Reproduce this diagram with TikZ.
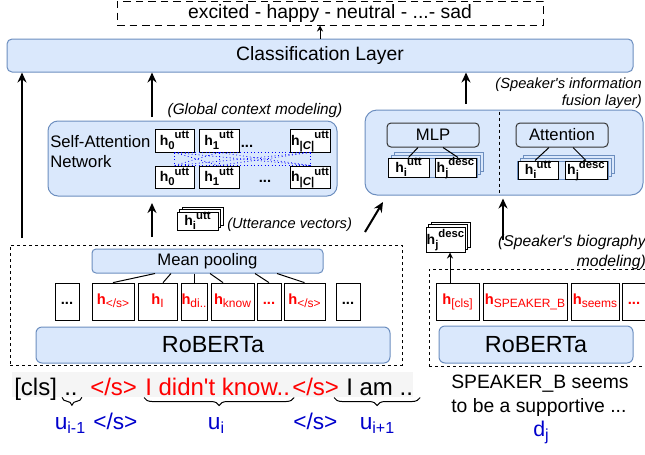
\documentclass[tikz,border=0pt]{standalone}
\usepackage{fontspec}
\setmainfont{Liberation Sans}
\usetikzlibrary{arrows.meta,decorations.pathreplacing}

\newlength{\du}
\setlength{\du}{0.75pt}

\definecolor{panelfill}{rgb}{0.854902, 0.909804, 0.988235}
\definecolor{panelline}{rgb}{0.423529, 0.556863, 0.749020}
\definecolor{tokenred}{rgb}{1.000000, 0.000000, 0.000000}
\definecolor{labelblue}{rgb}{0.000000, 0.000000, 0.800000}
\definecolor{linkblue}{rgb}{0.000000, 0.000000, 1.000000}
\definecolor{rowgray}{rgb}{0.960000, 0.960000, 0.960000}

\newcommand{\hvec}[2]{\textbf{h\raisebox{-0.3em}{\fontsize{8.5}{9}\selectfont #1}\raisebox{0.43em}{\fontsize{8.5}{9}\selectfont #2}}}
\newcommand{\htok}[1]{\textbf{h}\raisebox{-0.2em}{\fontsize{9}{10}\selectfont #1}}
\newcommand{\usub}[2]{#1\raisebox{-0.22em}{\fontsize{12}{13}\selectfont #2}}

\tikzset{
  panel/.style={draw=panelline, fill=panelfill, line width=1\du, inner sep=0pt},
  modbox/.style={panel, draw=black!80, rounded corners=4\du, minimum width=92\du, minimum height=24\du, font=\fontsize{12.5}{14}\selectfont},
  stackbox/.style={draw=panelline, fill=panelfill, line width=1\du, inner sep=0pt},
  vecbox/.style={draw=black, fill=white, line width=1\du, inner sep=0pt, text height=13\du, text depth=4\du, font=\fontsize{10.5}{12}\selectfont},
  tokbox/.style={draw=black, fill=white, line width=0.8\du, inner sep=0pt, minimum height=37\du, text height=9\du, text depth=3\du, text=tokenred, font=\fontsize{11}{12}\selectfont},
  notetext/.style={inner sep=0pt, font=\fontsize{11}{13}\selectfont\itshape},
  rowword/.style={inner sep=0pt, anchor=base west, font=\fontsize{18}{20}\selectfont},
  bluelabel/.style={inner sep=0pt, text=labelblue, font=\fontsize{17}{20}\selectfont},
  fatarrow/.style={line width=2\du, -{Stealth[length=7.5pt, width=6.75pt]}},
  thinarrow/.style={line width=1\du, -{Stealth[length=4.5pt, width=4.5pt]}},
  dashbox/.style={draw=black, line width=1\du, dash pattern=on 3\du off 3\du, inner sep=0pt},
  attlink/.style={draw=linkblue, line width=0.8\du, dotted},
  plainlink/.style={draw=black, line width=1\du},
  ubrace/.style={decorate, decoration={brace, mirror, amplitude=6pt}, line width=1\du},
}

\begin{document}
\begin{tikzpicture}[x=\du,y=-\du]
\useasboundingbox (0,0) rectangle (645,454);

% emotion classes and classifier
\node[dashbox, dash pattern=on 7.5\du off 5\du, minimum width=426\du, minimum height=24\du, font=\fontsize{14.5}{16}\selectfont] (classes) at (330,13) {excited - happy - neutral - ...- sad};
\node[panel, rounded corners=5\du, minimum width=626\du, minimum height=33\du, font=\fontsize{14.5}{16}\selectfont] (clf) at (320,55.5) {Classification Layer};
\draw[thinarrow] (clf.north) -- (clf.north |- classes.south);

% global context
\node[notetext, font=\fontsize{11.5}{13}\selectfont\itshape] (ctxnote) at (255,111) {(Global context modeling)};
\node[panel, rounded corners=10\du, minimum width=289\du, minimum height=75\du] (san) at (192.5,158.5) {};
\node[inner sep=0pt, anchor=west, align=left, font=\fontsize{12.5}{15}\selectfont] (sanname) at (50,152) {Self-Attention\\Network};
\node[vecbox, minimum width=39\du, minimum height=23\du] (t0) at (174.5,140.5) {\hvec{0}{utt}};
\node[vecbox, minimum width=40\du, minimum height=23\du] (t1) at (219,140.5) {\hvec{1}{utt}};
\node[inner sep=0pt, font=\fontsize{11}{12}\selectfont\bfseries] (tdots) at (247,146) {...};
\node[vecbox, minimum width=40\du, minimum height=23\du] (tC) at (310,140.5) {\hvec{|\textit{C}|}{utt}};
\node[vecbox, minimum width=39\du, minimum height=22\du] (b0) at (174.5,177) {\hvec{0}{utt}};
\node[vecbox, minimum width=40\du, minimum height=22\du] (b1) at (219,177) {\hvec{1}{utt}};
\node[inner sep=0pt, font=\fontsize{11}{12}\selectfont\bfseries] (bdots) at (265,181) {...};
\node[vecbox, minimum width=40\du, minimum height=22\du] (bC) at (310,177) {\hvec{|\textit{C}|}{utt}};
\draw[attlink] (t0.south) -- (tC.south);
\draw[attlink] (b0.north) -- (bC.north);
\foreach \a in {t0,t1,tC}
  \foreach \b in {b0,b1,bC}
    \draw[attlink] (\a.south) -- (\b.north);

\node[vecbox, minimum width=41\du, minimum height=18\du] (uvecC) at (202.5,216) {};
\node[vecbox, minimum width=41\du, minimum height=18\du] (uvecB) at (200,218.5) {};
\node[vecbox, minimum width=41\du, minimum height=18\du] (uvec) at (197.5,221) {\hvec{i}{utt}};
\node[notetext, anchor=west] (uvecnote) at (227,225) {(Utterance vectors)};

\coordinate (skipOut) at (22,238);
\draw[fatarrow] (skipOut) -- (skipOut |- clf.south);
\coordinate (sanOut) at (152,117);
\draw[fatarrow] (sanOut) -- (sanOut |- clf.south);
\coordinate (poolOut) at (152,237);
\coordinate (sanIn) at (152,203);
\draw[fatarrow] (poolOut) -- (sanIn);

% speaker fusion
\node[notetext, anchor=east, align=right] (fusnote) at (642,93) {(Speaker\textquotesingle s information\\fusion layer)};
\node[panel, rounded corners=12\du, minimum width=278\du, minimum height=85\du] (fusion) at (504,152.5) {};
\draw[plainlink, dash pattern=on 3\du off 3\du, shorten <=2\du, shorten >=2\du] ([xshift=-5\du]fusion.north) -- ([xshift=-5\du]fusion.south);
\node[modbox] (mlp) at (433,135) {MLP};
\node[modbox] (att) at (562,135) {Attention};
\node[stackbox, minimum width=89\du, minimum height=19\du] (mlpstackC) at (438.5,161.5) {};
\node[stackbox, minimum width=89\du, minimum height=19\du] (mlpstackB) at (435.5,164.5) {};
\node[stackbox, minimum width=89\du, minimum height=19\du] (mlpstack) at (432.5,167.5) {};
\node[vecbox, minimum width=41\du, minimum height=19\du] (mu) at (408.5,167.5) {\hvec{i}{utt}};
\node[vecbox, minimum width=41\du, minimum height=19\du] (md) at (455.5,167.5) {\hvec{j}{desc}};
\node[stackbox, minimum width=91\du, minimum height=18\du] (attstackC) at (568.5,164) {};
\node[stackbox, minimum width=91\du, minimum height=18\du] (attstackB) at (565.5,167) {};
\node[stackbox, minimum width=91\du, minimum height=18\du] (attstack) at (562.5,170) {};
\node[vecbox, minimum width=40\du, minimum height=18\du] (au) at (538,170) {\hvec{i}{utt}};
\node[vecbox, minimum width=42\du, minimum height=18\du] (ad) at (586,170) {\hvec{j}{desc}};
\draw[plainlink] ([xshift=-15\du]mlp.south) -- (mu.north);
\draw[plainlink] ([xshift=10\du]mlp.south) -- ([xshift=2.5\du]md.north);
\draw[plainlink] ([xshift=-13\du]att.south) -- ([xshift=-3\du]au.north);
\draw[plainlink] ([xshift=11\du]att.south) -- (ad.north);

\coordinate (fusOut) at (466,104);
\draw[fatarrow] (fusOut) -- (fusOut |- clf.south);
\coordinate (uvecOut) at (365,232);
\coordinate (fusIn) at (383,202);
\draw[fatarrow] (uvecOut) -- (fusIn);
\coordinate (bioOut) at (503,240);
\draw[fatarrow, shorten >=3\du] (bioOut) -- (bioOut |- fusion.south);
\node[notetext, anchor=east, align=right, font=\fontsize{11.75}{15}\selectfont\itshape] (bionote) at (646,252) {(Speaker\textquotesingle s biography\\modeling)};

% utterance encoder
\node[dashbox, minimum width=392\du, minimum height=120\du] (lbox) at (206,305) {};
\node[panel, rounded corners=4\du, minimum width=231\du, minimum height=24\du, font=\fontsize{12.5}{14}\selectfont] (pool) at (207.5,261) {Mean pooling};
\node[tokbox, minimum width=24\du, text=black] (k1) at (67,301.5) {\textbf{...}};
\node[tokbox, minimum width=42\du] (k2) at (113,301.5) {\htok{</s>}};
\node[tokbox, minimum width=39\du] (k3) at (157.5,301.5) {\htok{I}};
\node[tokbox, minimum width=26\du] (k4) at (194,301.5) {\htok{di..}};
\node[tokbox, minimum width=43\du] (k5) at (232.5,301.5) {\htok{know}};
\node[tokbox, minimum width=24\du] (k6) at (269,301.5) {\textbf{...}};
\node[tokbox, minimum width=41\du] (k7) at (304.5,301.5) {\htok{</s>}};
\node[tokbox, minimum width=24\du, text=black] (k8) at (348,301.5) {\textbf{...}};
\draw[plainlink] ([xshift=-52.5\du]pool.south) -- (k2.north);
\draw[plainlink] ([xshift=-36.5\du]pool.south) -- ([xshift=5.5\du]k3.north);
\draw[plainlink] ([xshift=-13.5\du]pool.south) -- (k4.north);
\draw[plainlink] ([xshift=2.5\du]pool.south) -- ([xshift=-9.5\du]k5.north);
\draw[plainlink] ([xshift=47.5\du]pool.south) -- (k6.north);
\draw[plainlink] ([xshift=69.5\du]pool.south) -- (k7.north);
\node[panel, rounded corners=6\du, minimum width=354\du, minimum height=36\du, font=\fontsize{17.5}{20}\selectfont] (enc) at (213,345) {RoBERTa};

% description encoder
\node[dashbox, minimum width=240\du, minimum height=97\du] (rbox) at (549,317.5) {};
\node[tokbox, minimum width=43\du] (c1) at (457.5,301.5) {\htok{[cls]}};
\node[tokbox, minimum width=84\du] (c2) at (525,301.5) {\htok{SPEAKER\_B}};
\node[tokbox, minimum width=48\du] (c3) at (595,301.5) {\htok{seems}};
\node[tokbox, minimum width=24\du] (c4) at (634,301.5) {\textbf{...}};
\node[panel, rounded corners=6\du, minimum width=194\du, minimum height=37\du, font=\fontsize{17.5}{20}\selectfont] (enc2) at (536,344.5) {RoBERTa};
\node[vecbox, minimum width=39\du, minimum height=25\du] (diconC) at (450.5,234.5) {};
\node[vecbox, minimum width=39\du, minimum height=25\du] (diconB) at (448,237) {};
\node[vecbox, minimum width=39\du, minimum height=25\du] (dicon) at (445.5,239.5) {\hvec{j}{desc}};
\coordinate (clsTop) at ([xshift=-7.5\du]c1.north);
\draw[thinarrow] (clsTop) -- (clsTop |- dicon.south);

% input text
\node[fill=rowgray, inner sep=0pt, minimum width=401\du, minimum height=25\du] (rowbg) at (212.5,384.5) {};
\node[rowword] (w1) at (14,395) {[cls]};
\node[rowword] (w2) at (64,395) {..};
\node[rowword, text=tokenred] (w3) at (90,395) {</s>};
\node[rowword, text=tokenred] (w4) at (145,395) {I didn\textquotesingle t know..};
\node[rowword, text=tokenred] (w5) at (292,395) {</s>};
\node[rowword] (w6) at (346,395) {I am ..};
\draw[ubrace] ([xshift=-2\du,yshift=-2\du]w2.south west) -- ([xshift=4\du,yshift=-2\du]w2.south east);
\draw[ubrace] ([xshift=-1\du,yshift=-2\du]w4.south west) -- ([xshift=4\du,yshift=-2\du]w4.south east);
\draw[ubrace] ([xshift=-12\du,yshift=-2\du]w6.south west) -- ([xshift=7\du,yshift=-2\du]w6.south east);
\node[bluelabel, anchor=base] (uprev) at (70,429) {\usub{u}{i-1}};
\node[bluelabel, anchor=base west] (sep1) at (93,429) {</s>};
\node[bluelabel, anchor=base] (ucur) at (216,429) {\usub{u}{i}};
\node[bluelabel, anchor=base west] (sep2) at (293,429) {</s>};
\node[bluelabel, anchor=base] (unext) at (377,429) {\usub{u}{i+1}};
\node[inner sep=0pt, anchor=west, align=left, font=\fontsize{14.5}{18}\selectfont] (desc) at (451,396) {SPEAKER\_B seems\\to be a supportive ...};
\node[bluelabel, anchor=base, font=\fontsize{16}{18}\selectfont] (dlab) at (541,436) {\usub{d}{j}};
\end{tikzpicture}
\end{document}
